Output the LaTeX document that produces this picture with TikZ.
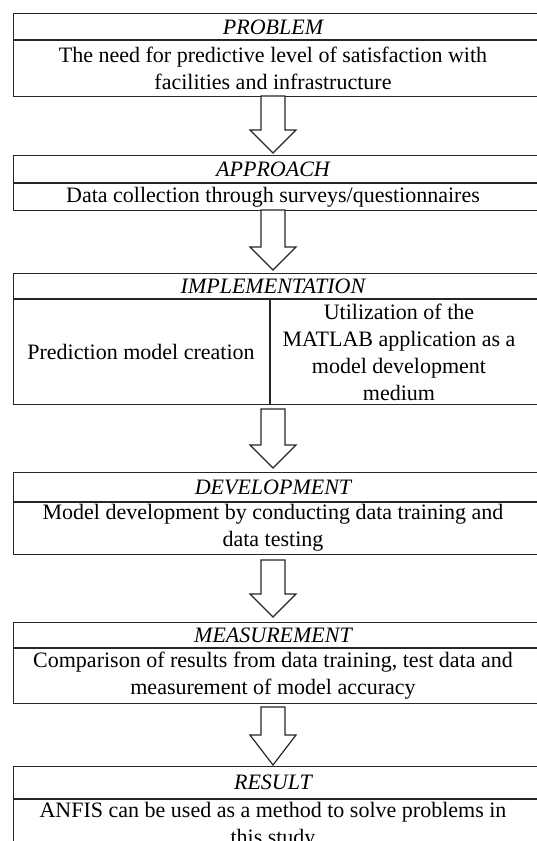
\documentclass[tikz,border=0pt]{standalone}
\usepackage{fontspec}
\setmainfont{Liberation Serif}
\usetikzlibrary{calc}
\newcommand\BlkArrow[4]{% x, shaft top, head start, tip
  \draw[blkarrow] (#1-12,#2) -- (#1-12,#3) -- (#1-23,#3) -- (#1,#4) -- (#1+23,#3) -- (#1+12,#3) -- (#1+12,#2) -- cycle;}
\begin{document}
\begin{tikzpicture}[x=1pt,y=-1pt,
  every node/.style={font=\fontsize{22}{27}\selectfont},
  frame/.style={draw=black!85, line width=1.2pt, rectangle, anchor=north west, inner sep=0pt, minimum width=525pt},
  sepline/.style={draw=black!85, line width=1.2pt},
  ttl/.style={font=\fontsize{22}{27}\selectfont\itshape, inner sep=0pt},
  body/.style={align=center, inner sep=0pt},
  blkarrow/.style={draw=black!85, line width=1.2pt, fill=white, line join=miter}]
\useasboundingbox (0,0) rectangle (536,841);
% boxes
\node[frame, minimum height=83pt] (b1) at (13,13) {};
\node[frame, minimum height=55pt] (b2) at (13,155) {};
\node[frame, minimum height=131pt] (b3) at (13,273) {};
\node[frame, minimum height=82pt] (b4) at (13,472) {};
\node[frame, minimum height=81pt] (b5) at (13,622) {};
\node[frame, minimum height=100pt] (b6) at (13,766) {};
% separators
\draw[sepline] ($(b1.north west)+(0,27)$) -- ($(b1.north east)+(0,27)$);
\draw[sepline] ($(b2.north west)+(0,28)$) -- ($(b2.north east)+(0,28)$);
\draw[sepline] ($(b3.north west)+(0,26)$) -- ($(b3.north east)+(0,26)$);
\draw[sepline] (270,299) -- (b3.south -| 270,0);
\draw[sepline] ($(b4.north west)+(0,30)$) -- ($(b4.north east)+(0,30)$);
\draw[sepline] ($(b5.north west)+(0,26)$) -- ($(b5.north east)+(0,26)$);
\draw[sepline] ($(b6.north west)+(0,33)$) -- ($(b6.north east)+(0,33)$);
% texts
\node[ttl] (t1) at (273,27) {PROBLEM};
\node[body] (x1) at (273,68) {The need for predictive level of satisfaction with\\facilities and infrastructure};
\node[ttl] (t2) at (273,169) {APPROACH};
\node[body] (x2) at (273,197) {Data collection through surveys/questionnaires};
\node[ttl] (t3) at (273,286) {IMPLEMENTATION};
\node[body] (x3a) at (141,352) {Prediction model creation};
\node[body] (x3b) at (399,352) {Utilization of the\\MATLAB application as a\\model development\\medium};
\node[ttl] (t4) at (273,487) {DEVELOPMENT};
\node[body] (x4) at (273,528) {Model development by conducting data training and\\data testing};
\node[ttl] (t5) at (273,635) {MEASUREMENT};
\node[body] (x5) at (273,676) {Comparison of results from data training, test data and\\measurement of model accuracy};
\node[ttl] (t6) at (273,782) {RESULT};
\node[body] (x6) at (273,826) {ANFIS can be used as a method to solve problems in\\this study};
% arrows
\BlkArrow{273}{96}{130}{153}
\BlkArrow{273}{210}{247}{270}
\BlkArrow{273}{409}{445}{468}
\BlkArrow{273}{560}{594}{617}
\BlkArrow{273}{707}{735}{765}
\end{tikzpicture}
\end{document}
